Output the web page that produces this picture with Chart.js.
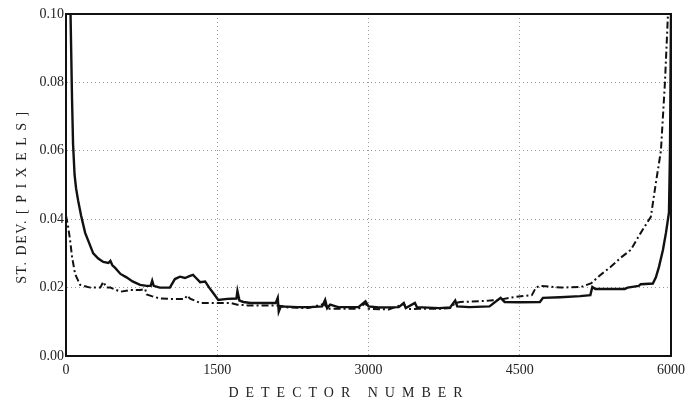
<!DOCTYPE html>
<html>
<head>
<meta charset="utf-8">
<script src="https://cdn.jsdelivr.net/npm/chart.js@4.4.1/dist/chart.umd.min.js"></script>
<style>
  html, body { margin: 0; padding: 0; background: #fff; }
  #wrap { width: 688px; height: 407px; position: relative; }
</style>
</head>
<body>
<div id="wrap"><canvas id="c" width="688" height="407"></canvas></div>
<script>
// ---- data (detector number, st. dev. in pixels) ----
const xTicks = [0, 1500, 3000, 4500, 6000];
const yTicks = [0.00, 0.02, 0.04, 0.06, 0.08, 0.10];

const solidX = [45,60,70,85,100,120,150,190,230,270,320,370,420,440,460,490,540,600,660,735,800,840,855,870,930,1030,1080,1130,1180,1230,1260,1290,1330,1380,1420,1460,1510,1600,1690,1700,1720,1760,1830,2080,2100,2110,2130,2300,2420,2540,2570,2590,2620,2700,2900,2970,3000,3100,3300,3350,3370,3460,3480,3700,3810,3860,3880,4000,4200,4310,4350,4500,4700,4730,4900,5100,5200,5220,5250,5540,5570,5680,5700,5820,5850,5880,5920,5950,5980,5990,6000];
const solidY = [0.100,0.075,0.062,0.053,0.049,0.0455,0.041,0.036,0.033,0.030,0.0285,0.0275,0.0272,0.0278,0.0265,0.0257,0.024,0.023,0.0218,0.0208,0.0205,0.0205,0.022,0.0205,0.020,0.020,0.0225,0.0232,0.0228,0.0234,0.0237,0.0228,0.0216,0.0218,0.020,0.0184,0.0164,0.0167,0.0168,0.019,0.0162,0.0158,0.0155,0.0155,0.017,0.013,0.0145,0.0143,0.0143,0.0145,0.0164,0.014,0.015,0.0143,0.0143,0.016,0.0145,0.0142,0.0143,0.0155,0.014,0.0155,0.0143,0.014,0.0142,0.0162,0.0145,0.0143,0.0145,0.017,0.0158,0.0157,0.0158,0.017,0.0172,0.0175,0.0178,0.0202,0.0196,0.0196,0.020,0.0205,0.021,0.0212,0.023,0.026,0.031,0.036,0.042,0.060,0.100];

const dashX = [0,20,40,60,90,140,240,340,370,400,440,540,640,735,785,800,850,935,1030,1180,1200,1230,1330,1460,1630,1700,1800,2100,2200,2400,2560,2600,2900,2970,3000,3200,3350,3380,3500,3700,3810,3860,3910,4100,4200,4310,4400,4510,4620,4660,4700,4910,5110,5210,5300,5400,5500,5600,5700,5800,5850,5900,5940,5970];
const dashY = [0.041,0.038,0.034,0.029,0.024,0.0208,0.020,0.020,0.0217,0.020,0.020,0.0188,0.0193,0.0193,0.0196,0.018,0.0175,0.0168,0.0167,0.0167,0.0177,0.0168,0.0155,0.0155,0.0155,0.015,0.0148,0.0148,0.0142,0.014,0.0152,0.0138,0.0138,0.0155,0.0138,0.0136,0.0152,0.0137,0.0138,0.0138,0.014,0.0155,0.0158,0.016,0.0162,0.0165,0.017,0.0175,0.0178,0.020,0.0205,0.020,0.0202,0.0213,0.0237,0.026,0.0287,0.031,0.036,0.0407,0.0506,0.060,0.080,0.100];

const xTitle = 'DETECTOR NUMBER';
const yTitle = 'ST. DEV. [ P I X E L S ]';

const toPts = (xs, ys) => xs.map((x, i) => ({ x: x, y: ys[i] }));

const FONT = '"Liberation Serif", "DejaVu Serif", serif';

const framePlugin = {
  id: 'frame',
  afterDraw(chart) {
    const { ctx, chartArea: a } = chart;
    ctx.save();
    ctx.strokeStyle = '#111';
    ctx.lineWidth = 2;
    ctx.strokeRect(a.left, a.top, a.right - a.left, a.bottom - a.top);
    // axis titles
    ctx.fillStyle = '#222';
    ctx.font = '14px ' + FONT;
    ctx.textAlign = 'center';
    ctx.textBaseline = 'middle';
    try { ctx.letterSpacing = '7px'; } catch (e) {}
    ctx.fillText(xTitle, 349, 393);
    ctx.translate(22, 197);
    ctx.rotate(-Math.PI / 2);
    try { ctx.letterSpacing = '1.5px'; } catch (e) {}
    ctx.fillText(yTitle, 0, 0);
    ctx.restore();
  }
};

new Chart(document.getElementById('c'), {
  type: 'line',
  data: {
    datasets: [
      {
        data: toPts(solidX, solidY),
        borderColor: '#111',
        borderWidth: 2.4,
        pointRadius: 0,
        tension: 0,
        fill: false
      },
      {
        data: toPts(dashX, dashY),
        borderColor: '#111',
        borderWidth: 2,
        borderDash: [7, 3, 2, 3],
        pointRadius: 0,
        tension: 0,
        fill: false
      }
    ]
  },
  options: {
    responsive: false,
    animation: false,
    devicePixelRatio: 1,
    layout: { padding: { left: 0, right: 17, top: 14, bottom: 0 } },
    plugins: { legend: { display: false }, tooltip: { enabled: false } },
    scales: {
      x: {
        type: 'linear',
        min: 0, max: 6000,
        afterBuildTicks(s) { s.ticks = xTicks.map(v => ({ value: v })); },
        afterFit(s) { s.height = 51; s.paddingRight = 0; },
        grid: { color: '#999', lineWidth: 1, drawTicks: false },
        border: { color: '#111', width: 2, dash: [1, 3] },
        ticks: {
          padding: 6,
          color: '#222',
          font: { family: FONT, size: 14 },
          callback: v => String(v)
        }
      },
      y: {
        min: 0, max: 0.10,
        afterBuildTicks(s) { s.ticks = yTicks.map(v => ({ value: v })); },
        afterFit(s) { s.width = 66; },
        grid: { color: '#999', lineWidth: 1, drawTicks: false },
        border: { color: '#111', width: 2, dash: [1, 3] },
        ticks: {
          padding: 2,
          color: '#222',
          font: { family: FONT, size: 14 },
          callback: v => Number(v).toFixed(2)
        }
      }
    }
  },
  plugins: [framePlugin]
});
</script>
</body>
</html>
